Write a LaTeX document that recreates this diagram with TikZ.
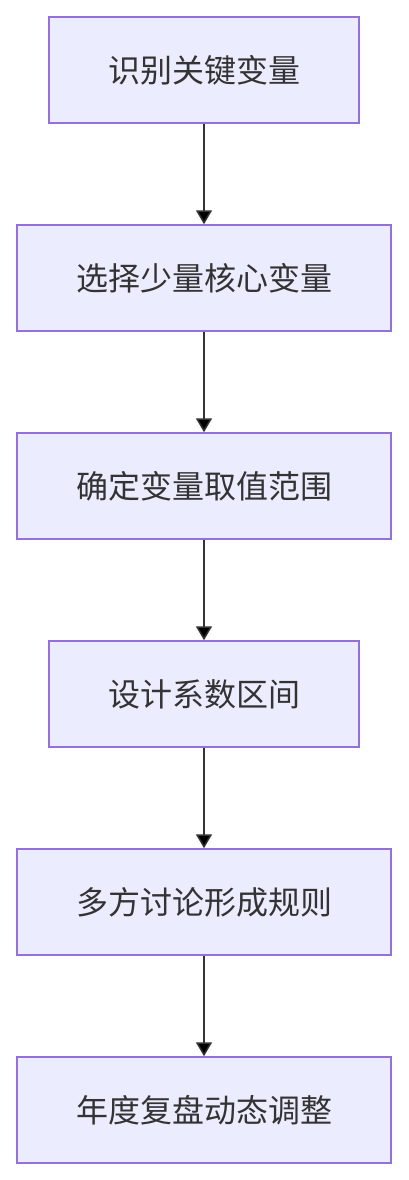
\documentclass[tikz,border=0pt]{standalone}
\usepackage{fontspec}
\setmainfont{Noto Sans CJK SC}
\usetikzlibrary{arrows.meta,positioning}
\definecolor{boxfill}{HTML}{ECECFF}
\definecolor{boxline}{HTML}{9370DB}
\definecolor{ink}{HTML}{333333}
\tikzset{
    stepnode/.style={
    rectangle,draw=boxline,fill=boxfill,line width=1.5pt,minimum height=106pt,
    text=ink,font=\fontsize{32}{38}\selectfont
    },
    narrow/.style={
    stepnode,minimum width=310pt
    },
    wide/.style={
    stepnode,minimum width=374pt
    },
    flow/.style={
    draw=ink,line width=1.5pt,-{Triangle[length=14pt,width=16pt]}
    },
}
\begin{document}
\begin{tikzpicture}[x=1pt,y=-1pt]
   \useasboundingbox (0,0) rectangle (408,1180);
   \node[narrow] (identify) at (204,70) {识别关键变量};
   \node[wide] (select) at (204,278) {选择少量核心变量};
   \node[wide] (range) at (204,486) {确定变量取值范围};
   \node[narrow] (coef) at (204,694) {设计系数区间};
   \node[wide] (discuss) at (204,902) {多方讨论形成规则};
   \node[wide] (review) at (204,1110) {年度复盘动态调整};

  \path[flow]
    (identify) edge (select)
    (select) edge (range)
    (range) edge (coef)
    (coef) edge (discuss)
    (discuss) edge (review);
\end{tikzpicture}
\end{document}
